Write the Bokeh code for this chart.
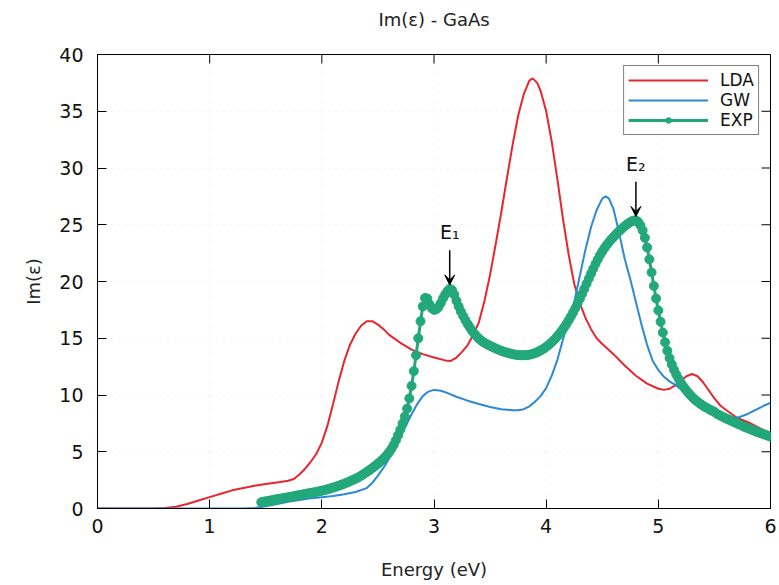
from bokeh.plotting import figure
from bokeh.models import (Range1d, Legend, LegendItem, Arrow, VeeHead,
                          Label, FixedTicker, ColumnDataSource)
from bokeh.embed import file_html
from bokeh.resources import INLINE

# ---------------- data ----------------
title_text = "Im(ε) - GaAs"

lda_energy = [0.0, 0.5, 0.6, 0.7, 0.8, 0.9, 1.0, 1.1, 1.2, 1.3, 1.4, 1.5, 1.6, 1.7, 1.75, 1.8,
              1.85, 1.9, 1.95, 2.0, 2.05, 2.1, 2.15, 2.2, 2.25, 2.3, 2.35, 2.4, 2.45, 2.5, 2.55,
              2.6, 2.7, 2.8, 2.9, 3.0, 3.1, 3.15, 3.2, 3.25, 3.3, 3.35, 3.4, 3.45, 3.5, 3.55,
              3.6, 3.65, 3.7, 3.75, 3.8, 3.85, 3.88, 3.92, 3.95, 4.0, 4.05, 4.1, 4.15, 4.2,
              4.25, 4.3, 4.35, 4.4, 4.45, 4.5, 4.6, 4.7, 4.8, 4.9, 5.0, 5.05, 5.1, 5.15, 5.2,
              5.25, 5.3, 5.35, 5.4, 5.45, 5.5, 5.55, 5.6, 5.7, 5.8, 5.9, 6.0]
lda_im = [0.0, 0.0, 0.05, 0.15, 0.4, 0.7, 1.0, 1.3, 1.6, 1.8, 2.0, 2.15, 2.3, 2.45, 2.6, 3.0,
          3.5, 4.1, 4.8, 5.8, 7.3, 9.2, 11.2, 13.0, 14.4, 15.4, 16.1, 16.5, 16.5, 16.2, 15.8,
          15.3, 14.6, 14.0, 13.6, 13.3, 13.05, 13.0, 13.3, 13.8, 14.4, 15.3, 16.4, 18.3, 20.6,
          23.3, 26.1, 29.1, 32.0, 34.6, 36.5, 37.7, 37.9, 37.5, 36.8, 35.0, 32.3, 29.0, 25.5,
          22.4, 19.8, 18.1, 16.8, 15.8, 15.0, 14.5, 13.6, 12.6, 11.7, 11.0, 10.55, 10.45,
          10.55, 10.85, 11.25, 11.65, 11.85, 11.65, 11.1, 10.4, 9.7, 9.1, 8.7, 8.0, 7.6, 7.1,
          6.6]

gw_energy = [0.0, 1.3, 1.4, 1.5, 1.6, 1.7, 1.8, 1.9, 2.0, 2.1, 2.2, 2.3, 2.4, 2.45,
             2.5, 2.55, 2.6, 2.65, 2.7, 2.75, 2.8, 2.85, 2.9, 2.95, 3.0, 3.05, 3.1, 3.2, 3.3,
             3.4, 3.5, 3.6, 3.7, 3.75, 3.8, 3.85, 3.9, 3.95, 4.0, 4.05, 4.1, 4.15, 4.2, 4.25,
             4.3, 4.35, 4.4, 4.45, 4.5, 4.53, 4.56, 4.6, 4.65, 4.7, 4.75, 4.8, 4.85, 4.9, 4.95,
             5.0, 5.05, 5.1, 5.15, 5.2, 5.3, 5.4, 5.5, 5.6, 5.65, 5.7, 5.75, 5.8, 5.85, 5.9,
             5.95, 6.0]
gw_im = [0.0, 0.0, 0.05, 0.2, 0.4, 0.6, 0.75, 0.9, 1.0, 1.1, 1.25, 1.45, 1.8, 2.25,
         2.9, 3.6, 4.4, 5.3, 6.3, 7.3, 8.3, 9.2, 9.9, 10.3, 10.45, 10.4, 10.25, 9.85, 9.5,
         9.2, 8.95, 8.75, 8.65, 8.65, 8.75, 9.0, 9.4, 9.9, 10.6, 11.7, 13.1, 14.9, 16.6, 18.2,
         20.5, 22.8, 24.8, 26.3, 27.3, 27.5, 27.3, 26.4, 24.3, 22.0, 20.2, 18.2, 16.2, 14.4,
         13.0, 12.2, 11.6, 11.2, 10.9, 10.5, 9.7, 9.0, 8.4, 8.1, 8.0, 8.0, 8.15, 8.35, 8.6,
         8.85, 9.1, 9.3]

exp_energy = [1.46, 1.48, 1.50, 1.52, 1.54, 1.56, 1.58, 1.60, 1.62, 1.64, 1.66, 1.68, 1.70,
              1.72, 1.74, 1.76, 1.78, 1.80, 1.82, 1.84, 1.86, 1.88, 1.90, 1.92, 1.94, 1.96,
              1.98, 2.00, 2.02, 2.04, 2.06, 2.08, 2.10, 2.12, 2.14, 2.16, 2.18, 2.20, 2.22,
              2.24, 2.26, 2.28, 2.30, 2.32, 2.34, 2.36, 2.38, 2.40, 2.42, 2.44, 2.46, 2.48,
              2.50, 2.52, 2.54, 2.56, 2.58, 2.60, 2.62, 2.64, 2.66, 2.68, 2.70, 2.72, 2.74,
              2.76, 2.78, 2.80, 2.82, 2.84, 2.86, 2.88, 2.90, 2.92, 2.94, 2.96, 2.98, 3.00,
              3.02, 3.04, 3.06, 3.08, 3.10, 3.12, 3.14, 3.16, 3.18, 3.20, 3.22, 3.24, 3.26,
              3.28, 3.30, 3.32, 3.34, 3.36, 3.38, 3.40, 3.42, 3.44, 3.46, 3.48, 3.50, 3.52,
              3.54, 3.56, 3.58, 3.60, 3.62, 3.64, 3.66, 3.68, 3.70, 3.72, 3.74, 3.76, 3.78,
              3.80, 3.82, 3.84, 3.86, 3.88, 3.90, 3.92, 3.94, 3.96, 3.98, 4.00, 4.02, 4.04,
              4.06, 4.08, 4.10, 4.12, 4.14, 4.16, 4.18, 4.20, 4.22, 4.24, 4.26, 4.28, 4.30,
              4.32, 4.34, 4.36, 4.38, 4.40, 4.42, 4.44, 4.46, 4.48, 4.50, 4.52, 4.54, 4.56,
              4.58, 4.60, 4.62, 4.64, 4.66, 4.68, 4.70, 4.72, 4.74, 4.76, 4.78, 4.80, 4.82,
              4.84, 4.86, 4.88, 4.90, 4.92, 4.94, 4.96, 4.98, 5.00, 5.02, 5.04, 5.06, 5.08,
              5.10, 5.12, 5.14, 5.16, 5.18, 5.20, 5.22, 5.24, 5.26, 5.28, 5.30, 5.32, 5.34,
              5.36, 5.38, 5.40, 5.42, 5.44, 5.46, 5.48, 5.50, 5.52, 5.54, 5.56, 5.58, 5.60,
              5.62, 5.64, 5.66, 5.68, 5.70, 5.72, 5.74, 5.76, 5.78, 5.80, 5.82, 5.84, 5.86,
              5.88, 5.90, 5.92, 5.94, 5.96, 5.98, 6.00]
exp_im = [0.55, 0.60, 0.63, 0.66, 0.70, 0.74, 0.78, 0.82, 0.85, 0.88, 0.92, 0.95, 0.99,
          1.02, 1.06, 1.10, 1.14, 1.18, 1.22, 1.26, 1.30, 1.33, 1.37, 1.40, 1.44, 1.48,
          1.52, 1.56, 1.61, 1.66, 1.72, 1.78, 1.84, 1.90, 1.97, 2.04, 2.11, 2.19, 2.27,
          2.35, 2.44, 2.53, 2.62, 2.72, 2.83, 2.95, 3.08, 3.21, 3.35, 3.49, 3.64, 3.79,
          3.95, 4.12, 4.30, 4.50, 4.72, 4.96, 5.25, 5.60, 6.00, 6.45, 6.95, 7.50, 8.10,
          8.80, 9.70, 10.80, 12.10, 13.50, 15.00, 16.50, 17.80, 18.55, 18.50, 18.00, 17.65,
          17.50, 17.55, 17.75, 18.10, 18.50, 18.85, 19.15, 19.35, 19.25, 18.85, 18.30, 17.80,
          17.35, 16.95, 16.60, 16.25, 15.95, 15.65, 15.40, 15.17, 14.97, 14.80, 14.66, 14.54,
          14.43, 14.33, 14.24, 14.15, 14.06, 13.97, 13.89, 13.82, 13.76, 13.70, 13.65, 13.60,
          13.56, 13.53, 13.51, 13.50, 13.50, 13.51, 13.53, 13.57, 13.62, 13.69, 13.77, 13.87,
          13.98, 14.10, 14.24, 14.39, 14.56, 14.75, 14.95, 15.17, 15.41, 15.67, 15.95, 16.25,
          16.57, 16.91, 17.27, 17.65, 18.05, 18.47, 18.90, 19.35, 19.80, 20.25, 20.70, 21.13,
          21.55, 21.95, 22.32, 22.65, 22.95, 23.22, 23.47, 23.70, 23.92, 24.13, 24.33, 24.52,
          24.70, 24.87, 25.03, 25.17, 25.29, 25.37, 25.38, 25.25, 24.95, 24.50, 23.85, 23.00,
          21.95, 20.80, 19.60, 18.50, 17.45, 16.45, 15.50, 14.65, 13.90, 13.25, 12.70, 12.22,
          11.80, 11.43, 11.10, 10.80, 10.53, 10.28, 10.05, 9.84, 9.65, 9.48, 9.32, 9.18, 9.05,
          8.93, 8.82, 8.71, 8.61, 8.51, 8.35, 8.25, 8.15, 8.05, 7.95, 7.86, 7.77, 7.68, 7.59,
          7.50, 7.41, 7.32, 7.23, 7.15, 7.07, 6.99, 6.91, 6.83, 6.75, 6.68, 6.61, 6.54, 6.47,
          6.40, 6.33]

x_ticks = [0, 1, 2, 3, 4, 5, 6]
y_ticks = [0, 5, 10, 15, 20, 25, 30, 35, 40]

# ---------------- styling ----------------
FONT = "DejaVu Sans"
RED = "#e8262f"
BLUE = "#2b8ad6"
GREEN = "#22a87a"

W, H = 779, 585
BL, BR, BT, BB = 97, 9, 54, 77
TICK = 9
frame_w, frame_h = W - BL - BR, H - BT - BB

p = figure(width=W, height=H, x_range=Range1d(0, 6), y_range=Range1d(0, 40),
           output_backend="svg", toolbar_location=None,
           title=title_text + "\n",
           min_border_left=BL, min_border_right=BR, min_border_top=BT, min_border_bottom=BB)

p.title.align = "center"
p.title.text_font = FONT
p.title.text_font_size = "18px"
p.title.text_font_style = "normal"
p.title.text_color = "#222222"
p.title.standoff = 8

p.outline_line_color = "black"
p.outline_line_width = 1
p.background_fill_color = "white"
p.border_fill_color = "white"

for ax in (p.xaxis[0], p.yaxis[0]):
    ax.major_tick_in = TICK
    ax.major_tick_out = 0
    ax.minor_tick_in = 0
    ax.minor_tick_out = 0
    ax.axis_line_color = "black"
    ax.major_tick_line_color = "black"
    ax.major_label_text_font = FONT
    ax.major_label_text_font_size = "19px"
    ax.major_label_text_color = "#111111"
    ax.axis_label_text_font = FONT
    ax.axis_label_text_font_size = "18px"
    ax.axis_label_text_font_style = "normal"
    ax.axis_label_text_color = "#222222"

p.xaxis[0].ticker = FixedTicker(ticks=x_ticks)
p.yaxis[0].ticker = FixedTicker(ticks=y_ticks)
p.xaxis[0].axis_label = "Energy (eV)"
p.yaxis[0].axis_label = "Im(ε)"
p.xaxis[0].major_label_standoff = 10
p.xaxis[0].axis_label_standoff = 23
p.yaxis[0].major_label_standoff = 14
p.yaxis[0].axis_label_standoff = 12

p.xgrid.ticker = FixedTicker(ticks=x_ticks)
p.ygrid.ticker = FixedTicker(ticks=y_ticks)
p.grid.grid_line_color = "#bbbbbb"
p.grid.grid_line_dash = "1 6"
p.grid.grid_line_alpha = 0.4

# mirrored inward ticks on the top and right borders (derived from the tick lists)
xr, yr = p.x_range, p.y_range
dy = TICK * (yr.end - yr.start) / frame_h
dx = TICK * (xr.end - xr.start) / frame_w
p.segment(x0=x_ticks, y0=[yr.end] * len(x_ticks), x1=x_ticks, y1=[yr.end - dy] * len(x_ticks),
          line_color="black", line_width=1)
p.segment(x0=[xr.end] * len(y_ticks), y0=y_ticks, x1=[xr.end - dx] * len(y_ticks), y1=y_ticks,
          line_color="black", line_width=1)

# ---------------- glyphs ----------------
lda_src = ColumnDataSource(dict(x=lda_energy, y=lda_im))
gw_src = ColumnDataSource(dict(x=gw_energy, y=gw_im))
exp_src = ColumnDataSource(dict(x=exp_energy, y=exp_im))

r_lda = p.line("x", "y", source=lda_src, line_color=RED, line_width=2)
r_gw = p.line("x", "y", source=gw_src, line_color=BLUE, line_width=2)
r_expl = p.line("x", "y", source=exp_src, line_color=GREEN, line_width=3)
r_exps = p.scatter("x", "y", source=exp_src, size=9, fill_color=GREEN, line_color=GREEN)

legend = Legend(items=[LegendItem(label="LDA", renderers=[r_lda]),
                       LegendItem(label="GW", renderers=[r_gw]),
                       LegendItem(label="EXP", renderers=[r_expl, r_exps])],
                location="top_right")
legend.label_text_font = FONT
legend.label_text_font_size = "17px"
legend.label_text_color = "#111111"
legend.border_line_color = "black"
legend.border_line_width = 1
legend.background_fill_alpha = 1
legend.glyph_width = 80
legend.glyph_height = 14
legend.label_height = 14
legend.spacing = 0
legend.padding = 4
legend.margin = 11
legend.label_standoff = 12
p.add_layout(legend)

# ---------------- E1 / E2 annotations from the EXP peaks ----------------
def local_peak(lo, hi):
    best = None
    for e, v in zip(exp_energy, exp_im):
        if lo <= e <= hi and (best is None or v > best[1]):
            best = (e, v)
    return best

for name, (lo, hi) in (("E\u2081", (3.05, 3.3)), ("E\u2082", (4.6, 5.0))):
    ex, ey = local_peak(lo, hi)
    p.add_layout(Arrow(end=VeeHead(size=10, fill_color="black", line_color="black"),
                       x_start=ex, y_start=ey + 3.4, x_end=ex, y_end=ey + 0.35,
                       line_color="black", line_width=1.5))
    p.add_layout(Label(x=ex, y=ey + 4.0, text=name, text_align="center",
                       text_baseline="bottom", text_font=FONT, text_font_size="19px",
                       text_color="#111111"))

open("out.html", "w").write(file_html(p, INLINE))
